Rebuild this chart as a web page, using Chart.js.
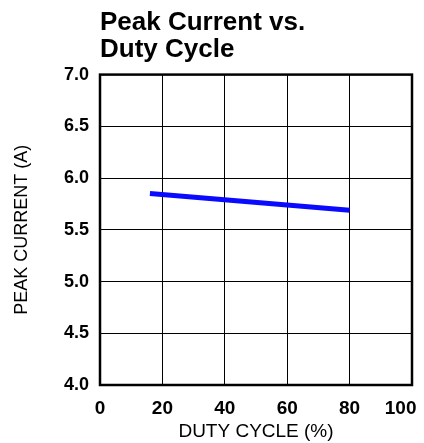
<!DOCTYPE html>
<html>
<head>
<meta charset="utf-8">
<script src="https://cdn.jsdelivr.net/npm/chart.js@4"></script>
<style>
    html, body { margin: 0; padding: 0; background: #ffffff; }
    #wrap { width: 424px; height: 443px; position: relative; }
</style>
</head>
<body>
<div id="wrap"><canvas id="peakChart"></canvas></div>
<script>
// Data
const dutyCycle = [16, 80];
const peakCurrent = [5.85, 5.69];
const xTicks = [0, 20, 40, 60, 80, 100];
const yTicks = [4.0, 4.5, 5.0, 5.5, 6.0, 6.5, 7.0];

const FONT = 'Arial, "Liberation Sans", sans-serif';

const points = dutyCycle.map((x, i) => ({ x: x, y: peakCurrent[i] }));

// Draw the heavy frame around the plot area
const framePlugin = {
    id: 'frame',
    afterDatasetsDraw(chart) {
        const { ctx, chartArea: a } = chart;
        ctx.save();
        ctx.strokeStyle = '#000000';
        ctx.lineWidth = 2.5;
        ctx.strokeRect(a.left, a.top, a.right - a.left, a.bottom - a.top);
        ctx.restore();
    }
};

new Chart(document.getElementById('peakChart'), {
    type: 'scatter',
    data: {
        datasets: [{
            data: points,
            showLine: true,
            borderColor: '#0a0aff',
            borderWidth: 5,
            pointRadius: 0,
            fill: false
        }]
    },
    options: {
        responsive: true,
        maintainAspectRatio: false,
        animation: false,
        layout: { padding: { top: 9, right: 12, left: 0, bottom: 0 } },
        plugins: {
            legend: { display: false },
            tooltip: { enabled: false },
            title: {
                display: true,
                text: ['Peak Current vs.', 'Duty Cycle'],
                align: 'start',
                fullSize: false,
                color: '#000000',
                font: { family: FONT, size: 26, weight: 'bold', lineHeight: 1.05 },
                padding: { top: 0, bottom: 11 }
            }
        },
        scales: {
            x: {
                type: 'linear',
                min: 0,
                max: 100,
                afterBuildTicks: s => { s.ticks = xTicks.map(v => ({ value: v })); },
                afterFit: s => { s.height = 58; s.paddingLeft = 0; s.paddingRight = 0; },
                grid: { color: '#000000', lineWidth: 1, drawTicks: false },
                border: { display: false },
                ticks: {
                    color: '#000000',
                    padding: 12,
                    maxRotation: 0,
                    // the last label sits left of its gridline in the original
                    callback: v => v === 100 ? '100\u2002\u2002\u2009' : String(v),
                    font: { family: FONT, size: 19, weight: 'bold' }
                },
                title: {
                    display: true,
                    text: 'DUTY CYCLE (%)',
                    color: '#000000',
                    padding: { top: 0, bottom: 0 },
                    font: { family: FONT, size: 19, weight: 'normal' }
                }
            },
            y: {
                min: 4,
                max: 7,
                afterBuildTicks: s => { s.ticks = yTicks.map(v => ({ value: v })); },
                afterFit: s => { s.width = 100; s.paddingTop = 0; s.paddingBottom = 0; },
                grid: { color: '#000000', lineWidth: 1, drawTicks: false },
                border: { display: false },
                ticks: {
                    color: '#000000',
                    padding: 11,
                    callback: v => v.toFixed(1),
                    font: { family: FONT, size: 18, weight: 'bold' }
                },
                title: {
                    display: true,
                    text: 'PEAK CURRENT (A)',
                    color: '#000000',
                    padding: { top: 11, bottom: 0 },
                    font: { family: FONT, size: 18, weight: 'normal' }
                }
            }
        }
    },
    plugins: [framePlugin]
});
</script>
</body>
</html>
